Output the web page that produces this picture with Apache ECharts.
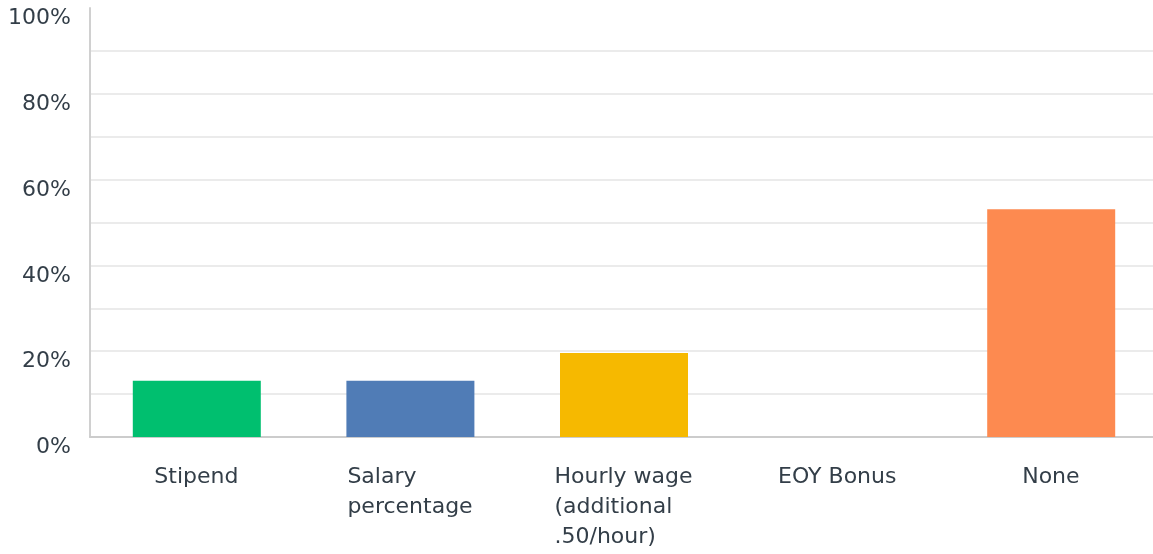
<!DOCTYPE html>
<html>
<head>
<meta charset="utf-8">
<script src="https://cdn.jsdelivr.net/npm/echarts@6/dist/echarts.min.js"></script>
<style>
  html, body { margin: 0; padding: 0; background: #ffffff; }
  #chart { width: 1153px; height: 554px; }
</style>
</head>
<body>
<div id="chart"></div>
<script>
// Answer options and share of respondents (%)
const categories = ['Stipend', 'Salary\npercentage', 'Hourly wage\n(additional\n.50/hour)', 'EOY Bonus', 'None'];
const shares = [13.1, 13.1, 19.6, 0, 53.1];
const barColors = ['#00bf6f', '#507cb6', '#f6b900', '#fd8a50', '#fd8a50'];
const yTicks = [0, 20, 40, 60, 80, 100];

const FONT_FAMILY = '"DejaVu Sans", sans-serif';
const FONT_SIZE = 22;
const TEXT_COLOR = '#333e48';

// Multi-line labels are left-aligned inside a block that is centred on the tick
const measureCtx = document.createElement('canvas').getContext('2d');
measureCtx.font = FONT_SIZE + 'px ' + FONT_FAMILY;
const rich = {};
categories.forEach(function (c, i) {
  const w = Math.max.apply(null, c.split('\n').map(function (l) { return measureCtx.measureText(l).width; }));
  rich['c' + i] = { width: Math.ceil(w), align: 'left', fontFamily: FONT_FAMILY, fontSize: FONT_SIZE, color: TEXT_COLOR, lineHeight: 30 };
});

const chart = echarts.init(document.getElementById('chart'), null, { renderer: 'canvas' });
chart.setOption({
  animation: false,
  grid: { left: 90, width: 1068, top: 8, bottom: 117, containLabel: false, outerBoundsMode: 'none' },
  xAxis: {
    type: 'category',
    data: categories,
    axisLine: { show: true, lineStyle: { color: '#cccccc', width: 2 } },
    axisTick: { show: false },
    axisLabel: {
      interval: 0,
      margin: 25,
      align: 'center',
      verticalAlign: 'top',
      lineHeight: 30,
      fontFamily: FONT_FAMILY,
      fontSize: FONT_SIZE,
      color: TEXT_COLOR,
      formatter: function (value, idx) {
        return value.split('\n').map(function (l) { return '{c' + idx + '|' + l + '}'; }).join('\n');
      },
      rich: rich
    }
  },
  yAxis: {
    type: 'value',
    min: 0,
    max: 100,
    interval: 10,
    axisLine: { show: true, lineStyle: { color: '#d0d0d0', width: 2 } },
    axisTick: { show: false },
    splitLine: { show: true, showMinLine: false, showMaxLine: false, lineStyle: { color: '#ebebeb', width: 2 } },
    axisLabel: {
      margin: 19,
      fontFamily: FONT_FAMILY,
      fontSize: FONT_SIZE,
      color: TEXT_COLOR,
      verticalAlign: 'top',
      lineHeight: 21,
      formatter: function (v) { return yTicks.indexOf(v) >= 0 ? v + '%' : ''; }
    }
  },
  series: [{
    type: 'bar',
    data: shares.map(function (v, i) { return { value: v, itemStyle: { color: barColors[i] } }; }),
    barWidth: 128
  }]
});
</script>
</body>
</html>
